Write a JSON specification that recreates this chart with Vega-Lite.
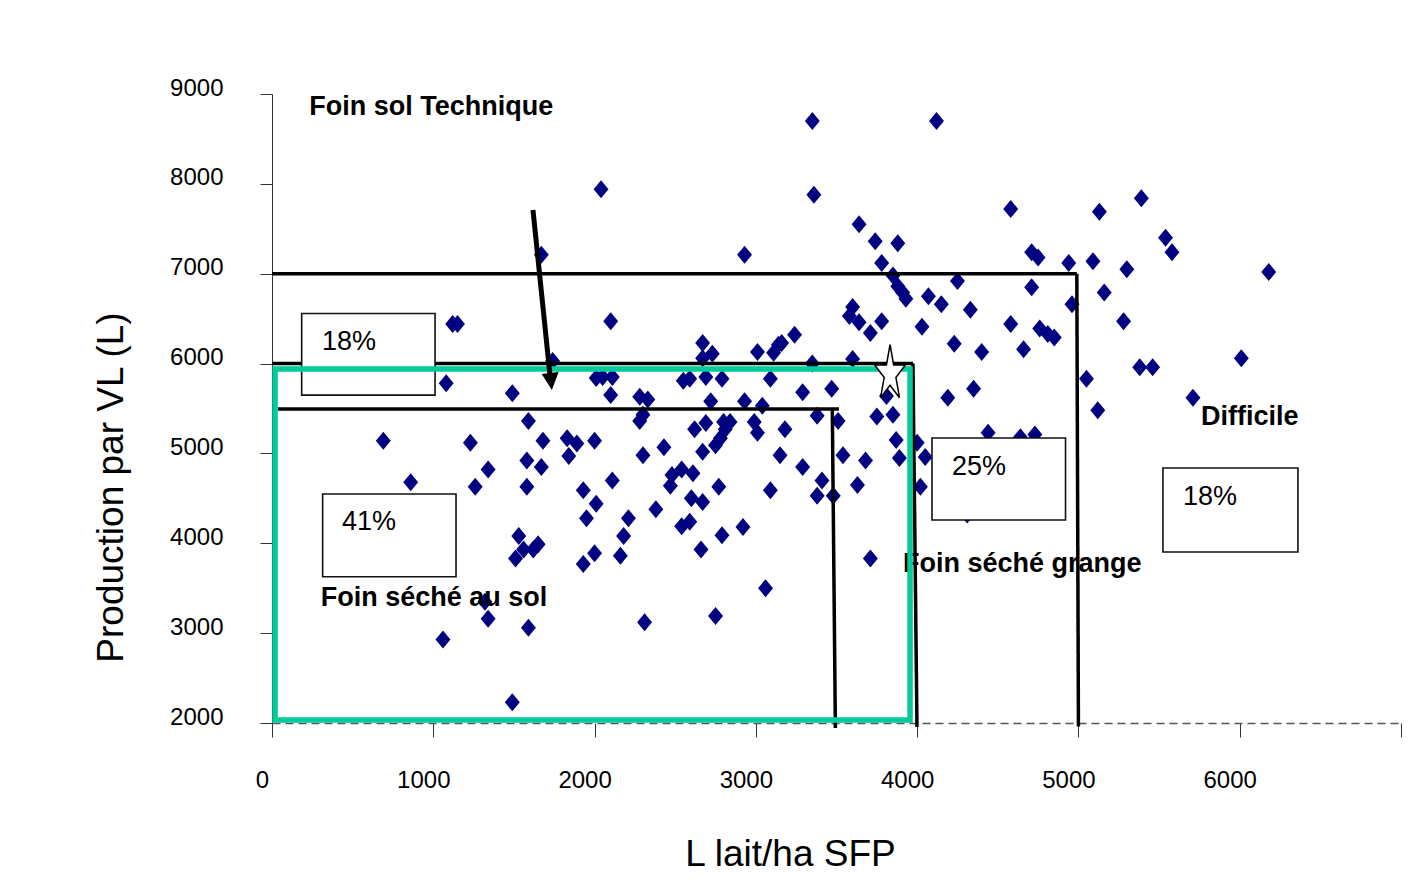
{
  "$schema": "https://vega.github.io/schema/vega-lite/v6.json",
  "width": 1129,
  "height": 629,
  "autosize": {"type": "none"},
  "padding": {"left": 272, "top": 94, "right": 25, "bottom": 171},
  "background": "white",
  "config": {
    "font": "Liberation Sans",
    "view": {"stroke": null},
    "axis": {"grid": false, "labelColor": "black", "titleColor": "black", "labelFont": "Liberation Sans", "titleFont": "Liberation Sans", "titleFontWeight": "normal"}
  },
  "datasets": {
    "pts": [
      {"x":3350,"y":8700},{"x":4120,"y":8700},{"x":3360,"y":7880},{"x":2040,"y":7940},{"x":5390,"y":7840},{"x":4580,"y":7720},{"x":5130,"y":7690},{"x":3640,"y":7550},{"x":3740,"y":7360},{"x":3880,"y":7340},
      {"x":2930,"y":7210},{"x":1670,"y":7210},{"x":5540,"y":7400},{"x":5580,"y":7240},{"x":4710,"y":7240},{"x":4750,"y":7180},{"x":3780,"y":7120},{"x":4940,"y":7120},{"x":5090,"y":7140},{"x":5300,"y":7050},
      {"x":6180,"y":7020},{"x":3850,"y":6980},{"x":3880,"y":6860},{"x":3910,"y":6790},{"x":3930,"y":6720},{"x":4250,"y":6920},{"x":4710,"y":6850},{"x":4070,"y":6750},{"x":4150,"y":6660},{"x":4330,"y":6600},
      {"x":4960,"y":6660},{"x":5160,"y":6790},{"x":3600,"y":6630},{"x":3580,"y":6530},{"x":3640,"y":6460},{"x":3780,"y":6470},{"x":3710,"y":6340},{"x":4030,"y":6410},{"x":4580,"y":6440},{"x":5280,"y":6470},
      {"x":4760,"y":6390},{"x":4810,"y":6330},{"x":4850,"y":6290},{"x":4230,"y":6220},{"x":4400,"y":6130},{"x":4660,"y":6160},{"x":2100,"y":6470},{"x":3240,"y":6320},{"x":3160,"y":6230},{"x":2670,"y":6230},
      {"x":2730,"y":6110},{"x":2670,"y":6060},{"x":3010,"y":6130},{"x":3140,"y":6210},{"x":3110,"y":6120},{"x":3350,"y":6000},{"x":3600,"y":6050},{"x":1740,"y":6030},{"x":2010,"y":5840},{"x":2050,"y":5850},
      {"x":2110,"y":5850},{"x":2550,"y":5810},{"x":2590,"y":5830},{"x":2690,"y":5850},{"x":2790,"y":5830},{"x":3090,"y":5830},{"x":5050,"y":5830},{"x":5380,"y":5960},{"x":5460,"y":5960},{"x":6010,"y":6060},
      {"x":5120,"y":5480},{"x":5710,"y":5620},{"x":1080,"y":5780},{"x":1120,"y":6440},{"x":1150,"y":6440},{"x":1490,"y":5670},{"x":2100,"y":5650},{"x":2280,"y":5630},{"x":2330,"y":5600},{"x":2720,"y":5580},
      {"x":2930,"y":5580},{"x":3040,"y":5530},{"x":3290,"y":5680},{"x":3470,"y":5720},{"x":3810,"y":5640},{"x":4190,"y":5620},{"x":4350,"y":5720},{"x":2300,"y":5430},{"x":2280,"y":5360},{"x":2620,"y":5270},
      {"x":2690,"y":5340},{"x":2800,"y":5350},{"x":2840,"y":5350},{"x":2810,"y":5270},{"x":2780,"y":5170},{"x":2750,"y":5090},{"x":2990,"y":5350},{"x":3010,"y":5230},{"x":3180,"y":5270},{"x":3380,"y":5420},
      {"x":3510,"y":5360},{"x":3750,"y":5410},{"x":3850,"y":5430},{"x":1590,"y":5360},{"x":690,"y":5140},{"x":1230,"y":5120},{"x":1680,"y":5140},{"x":1830,"y":5170},{"x":1890,"y":5110},{"x":1840,"y":4970},
      {"x":2000,"y":5140},{"x":2300,"y":4980},{"x":2430,"y":5070},{"x":2670,"y":5020},{"x":3150,"y":4980},{"x":3540,"y":4980},{"x":3680,"y":4920},{"x":3870,"y":5150},{"x":3890,"y":4950},{"x":4000,"y":5120},
      {"x":4050,"y":4960},{"x":4440,"y":5230},{"x":4640,"y":5180},{"x":4730,"y":5210},{"x":1580,"y":4920},{"x":1670,"y":4850},{"x":1340,"y":4820},{"x":860,"y":4680},{"x":1260,"y":4630},{"x":1580,"y":4630},
      {"x":3290,"y":4850},{"x":2110,"y":4700},{"x":2480,"y":4760},{"x":2540,"y":4820},{"x":2610,"y":4780},{"x":1930,"y":4590},{"x":2470,"y":4640},{"x":2770,"y":4630},{"x":3090,"y":4590},{"x":3410,"y":4700},
      {"x":3630,"y":4650},{"x":4020,"y":4630},{"x":2010,"y":4440},{"x":2380,"y":4380},{"x":2600,"y":4500},{"x":2670,"y":4460},{"x":3380,"y":4530},{"x":3480,"y":4530},{"x":1950,"y":4280},{"x":2210,"y":4280},
      {"x":2180,"y":4080},{"x":2540,"y":4190},{"x":2590,"y":4240},{"x":2790,"y":4090},{"x":2920,"y":4180},{"x":2660,"y":3930},{"x":2000,"y":3890},{"x":1930,"y":3770},{"x":2160,"y":3860},{"x":1530,"y":4080},
      {"x":1560,"y":3930},{"x":1510,"y":3830},{"x":1650,"y":3990},{"x":1620,"y":3930},{"x":3710,"y":3830},{"x":3060,"y":3500},{"x":1320,"y":3350},{"x":1340,"y":3160},{"x":1060,"y":2930},{"x":1590,"y":3060},
      {"x":2310,"y":3120},{"x":2750,"y":3190},{"x":1490,"y":2230},{"x":4310,"y":4320}
    ],
    "notes": [
      {"x": 231, "y": 8855, "label": "Foin sol Technique"},
      {"x": 302, "y": 3390, "label": "Foin séché au sol"},
      {"x": 3912, "y": 3775, "label": "Foin séché grange"},
      {"x": 5760, "y": 5405, "label": "Difficile"}
    ],
    "segs": [
      {"x": 0, "y": 7000, "x2": 4990, "y2": 7000},
      {"x": 4990, "y": 7000, "x2": 5000, "y2": 1960},
      {"x": 0, "y": 6000, "x2": 3974, "y2": 6000},
      {"x": 3974, "y": 6000, "x2": 3999, "y2": 1955},
      {"x": 37, "y": 5495, "x2": 3515, "y2": 5495},
      {"x": 3474, "y": 5495, "x2": 3493, "y2": 1944}
    ],
    "boxes": [
      {"x": 184, "x2": 1011, "y": 5649, "y2": 6558},
      {"x": 314, "x2": 1141, "y": 3628, "y2": 4549},
      {"x": 4092, "x2": 4920, "y": 4259, "y2": 5172},
      {"x": 5524, "x2": 6361, "y": 3903, "y2": 4838}
    ],
    "pct": [
      {"x": 310, "y": 6235, "label": "18%"},
      {"x": 434, "y": 4239, "label": "41%"},
      {"x": 4216, "y": 4849, "label": "25%"},
      {"x": 5648, "y": 4519, "label": "18%"}
    ],
    "green": [{"x": 19, "x2": 3956, "y": 2033, "y2": 5940}],
    "star": [{"x": 3832, "y": 5884}],
    "shaft": [{"x": 1618, "y": 7710, "x2": 1724, "y2": 5862}],
    "head": [{"x": 1730, "y": 5801}]
  },
  "layer": [
    {
      "data": {"name": "pts"},
      "mark": {"type": "point", "shape": "M-0.83,0L0,-1L0.83,0L0,1Z", "filled": true, "color": "#000080", "size": 324, "opacity": 1},
      "encoding": {
        "x": {"field": "x", "type": "quantitative",
          "scale": {"domain": [0, 7000], "nice": false, "zero": false},
          "axis": {"title": "L lait/ha SFP", "values": [0,1000,2000,3000,4000,5000,6000,7000], "format": "d",
            "labelExpr": "datum.value == 7000 ? '' : datum.label",
            "labelFontSize": 24, "labelPadding": 31, "labelOffset": -10, "labelFlush": false, "labelOverlap": false, "labelBound": false,
            "tickSize": 14, "tickColor": "#333", "tickWidth": 1,
            "domainColor": "#555", "domainDash": [8, 5], "domainWidth": 1.5,
            "titleFontSize": 37, "titleX": 518, "titleY": 131, "titleBaseline": "middle"}},
        "y": {"field": "y", "type": "quantitative",
          "scale": {"domain": [2000, 9000], "nice": false, "zero": false},
          "axis": {"title": "Production par VL (L)", "values": [2000,3000,4000,5000,6000,7000,8000,9000], "format": "d",
            "labelFontSize": 24, "labelPadding": 37, "labelOffset": -6, "labelFlush": false, "labelOverlap": false, "labelBound": false,
            "tickSize": 12, "tickColor": "#333", "tickWidth": 1,
            "domainColor": "#333", "domainWidth": 1,
            "titleFontSize": 37, "titleAngle": -90, "titleX": -161, "titleY": 393, "titleBaseline": "middle"}}
      }
    },
    {
      "data": {"name": "notes"},
      "mark": {"type": "text", "align": "left", "baseline": "middle", "fontSize": 27, "fontWeight": "bold", "color": "black"},
      "encoding": {
        "x": {"field": "x", "type": "quantitative"},
        "y": {"field": "y", "type": "quantitative"},
        "text": {"field": "label"}
      }
    },
    {
      "data": {"name": "segs"},
      "mark": {"type": "rule", "color": "black", "strokeWidth": 3.5},
      "encoding": {
        "x": {"field": "x", "type": "quantitative"},
        "y": {"field": "y", "type": "quantitative"},
        "x2": {"field": "x2"},
        "y2": {"field": "y2"}
      }
    },
    {
      "data": {"name": "boxes"},
      "mark": {"type": "rect", "fill": "white", "stroke": "#111", "strokeWidth": 1.6},
      "encoding": {
        "x": {"field": "x", "type": "quantitative"},
        "x2": {"field": "x2"},
        "y": {"field": "y", "type": "quantitative"},
        "y2": {"field": "y2"}
      }
    },
    {
      "data": {"name": "pct"},
      "mark": {"type": "text", "align": "left", "baseline": "middle", "fontSize": 27, "color": "black"},
      "encoding": {
        "x": {"field": "x", "type": "quantitative"},
        "y": {"field": "y", "type": "quantitative"},
        "text": {"field": "label"}
      }
    },
    {
      "data": {"name": "green"},
      "mark": {"type": "rect", "filled": false, "stroke": "#00CC99", "strokeWidth": 5.5},
      "encoding": {
        "x": {"field": "x", "type": "quantitative"},
        "x2": {"field": "x2"},
        "y": {"field": "y", "type": "quantitative"},
        "y2": {"field": "y2"}
      }
    },
    {
      "data": {"name": "star"},
      "mark": {"type": "point", "shape": "M0,-1L0.123,-0.309L0.523,-0.309L0.2,0.118L0.323,0.809L0,0.382L-0.323,0.809L-0.2,0.118L-0.523,-0.309L-0.123,-0.309Z", "filled": true, "fill": "white", "stroke": "black", "strokeWidth": 1.5, "size": 3434, "opacity": 1},
      "encoding": {
        "x": {"field": "x", "type": "quantitative"},
        "y": {"field": "y", "type": "quantitative"}
      }
    },
    {
      "data": {"name": "shaft"},
      "mark": {"type": "rule", "color": "black", "strokeWidth": 5},
      "encoding": {
        "x": {"field": "x", "type": "quantitative"},
        "y": {"field": "y", "type": "quantitative"},
        "x2": {"field": "x2"},
        "y2": {"field": "y2"}
      }
    },
    {
      "data": {"name": "head"},
      "mark": {"type": "point", "shape": "M-1,-1L1,-1L0,1Z", "filled": true, "color": "black", "size": 289, "angle": -6, "opacity": 1},
      "encoding": {
        "x": {"field": "x", "type": "quantitative"},
        "y": {"field": "y", "type": "quantitative"}
      }
    }
  ]
}
